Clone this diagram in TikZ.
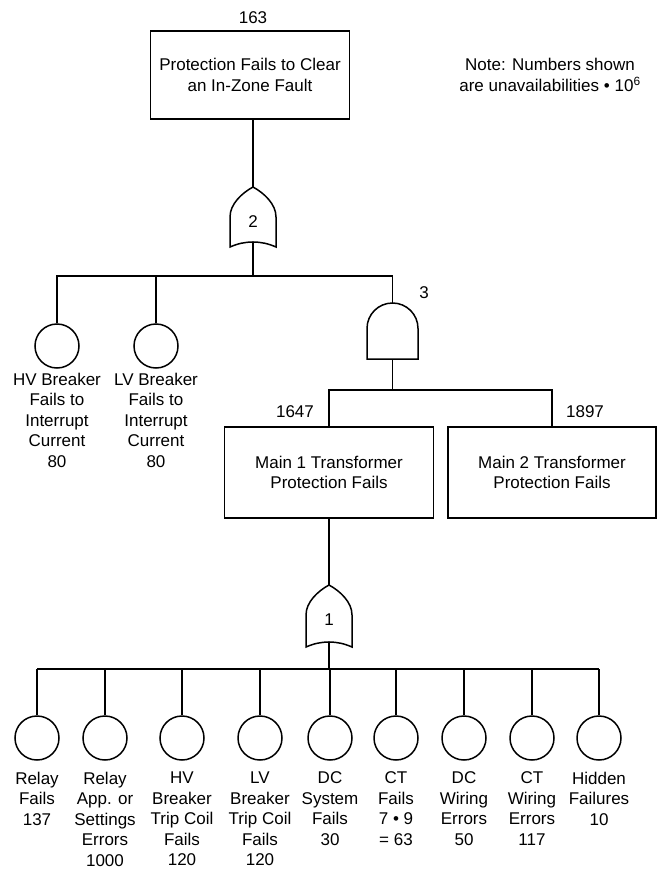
\documentclass[tikz,border=0pt]{standalone}
\usepackage{fontspec}
\setmainfont{Liberation Sans}
\begin{document}
\begin{tikzpicture}[x=1pt, y=-1pt, line width=1.5pt,
  every node/.style={font=\fontsize{17}{20.6}\selectfont},
  eventbox/.style={draw, rectangle, align=center, inner sep=0pt},
  basic/.style={draw, circle, minimum size=44pt, inner sep=0pt},
  evlabel/.style={anchor=north, align=center, inner sep=0pt},
  plain/.style={inner sep=0pt},
  wire/.style={line width=1.5pt}]
\useasboundingbox (0,0) rectangle (658,869);

% ---------- top event ----------
\node[eventbox, minimum width=199pt, minimum height=88pt] (top) at (250,75)
  {Protection Fails to Clear\\an In-Zone Fault};
\node[plain] (n163) at (253,18) {163};
\node[plain, align=center] (note) at (550,75)
  {Note: Numbers shown\\are unavailabilities • 10\textsuperscript{6}};

% ---------- OR gate 2 ----------
\coordinate (g2top) at (253,187);
\coordinate (g2bot) at (253,242);
\draw (g2top) .. controls (242,193) and (230,204) .. (230,217) -- (230,247)
  .. controls (245,240.3) and (261,240.3) .. (276,247) -- (276,217)
  .. controls (276,204) and (264,193) .. (g2top) -- cycle;
\node[plain] (g2lbl) at (253,222) {2};
\draw[wire] (top.south -| g2top) -- (g2top);

% ---------- first level inputs ----------
\coordinate (bus1) at (253,276);
\node[basic] (hvb) at (57,346) {};
\node[basic] (lvb) at (156,346) {};
\node[evlabel] (hvbl) at (57,372) {HV Breaker\\Fails to\\Interrupt\\Current\\80};
\node[evlabel] (lvbl) at (156,372) {LV Breaker\\Fails to\\Interrupt\\Current\\80};

% ---------- AND gate 3 ----------
\coordinate (g3top) at (392.5,303);
\coordinate (g3bot) at (392.5,359);
\draw (367,359) -- (367,328.5) .. controls (367,314.4) and (378.4,303) .. (g3top)
  .. controls (406.6,303) and (418,314.4) .. (418,328.5) -- (418,359) -- cycle;
\node[plain] (g3lbl) at (424,293) {3};

\draw[wire] (g2bot) -- (bus1);
\draw[wire] (hvb.north) |- (bus1) -| (g3top);
\draw[wire] (lvb.north) -- (lvb.north |- bus1);

% ---------- transformer protection events ----------
\node[eventbox, minimum width=209pt, minimum height=91pt] (main1) at (329,472.5)
  {Main 1 Transformer\\Protection Fails};
\node[eventbox, minimum width=208pt, minimum height=91pt] (main2) at (552,472.5)
  {Main 2 Transformer\\Protection Fails};
\node[plain] (n1647) at (295,412) {1647};
\node[plain] (n1897) at (585,412) {1897};
\coordinate (bus2) at (392.5,390);
\draw[wire] (g3bot) -- (bus2);
\draw[wire] (main1.north) |- (bus2) -| (main2.north);

% ---------- OR gate 1 ----------
\coordinate (g1top) at (329,585);
\coordinate (g1bot) at (329,642);
\draw (g1top) .. controls (318,591) and (306,602) .. (306,615) -- (306,647)
  .. controls (321,640.3) and (337,640.3) .. (352,647) -- (352,615)
  .. controls (352,602) and (340,591) .. (g1top) -- cycle;
\node[plain] (g1lbl) at (329,620) {1};
\draw[wire] (main1.south) -- (g1top);

% ---------- basic events under gate 1 ----------
\coordinate (bus3) at (329,669);
\foreach \nm/\xx/\txt in {
  relay/37/{Relay\\Fails\\137},
  settings/105/{Relay\\App. or\\Settings\\Errors\\1000},
  hvtc/182/{HV\\Breaker\\Trip Coil\\Fails\\120},
  lvtc/260/{LV\\Breaker\\Trip Coil\\Fails\\120},
  dcsys/330/{DC\\System\\Fails\\30},
  ct/396/{CT\\Fails\\7 • 9\\= 63},
  dcwire/464/{DC\\Wiring\\Errors\\50},
  ctwire/532/{CT\\Wiring\\Errors\\117},
  hidden/599/{Hidden\\Failures\\10}}{
  \node[basic] (\nm) at (\xx,738) {};
  \node[evlabel] (\nm-l) at (\xx,771) {\txt};
  \draw[wire] (\nm.north) -- (\nm.north |- bus3);
}
\draw[wire] (g1bot) -- (bus3);
\draw[wire] (relay.north |- bus3) -- (hidden.north |- bus3);
\end{tikzpicture}
\end{document}
